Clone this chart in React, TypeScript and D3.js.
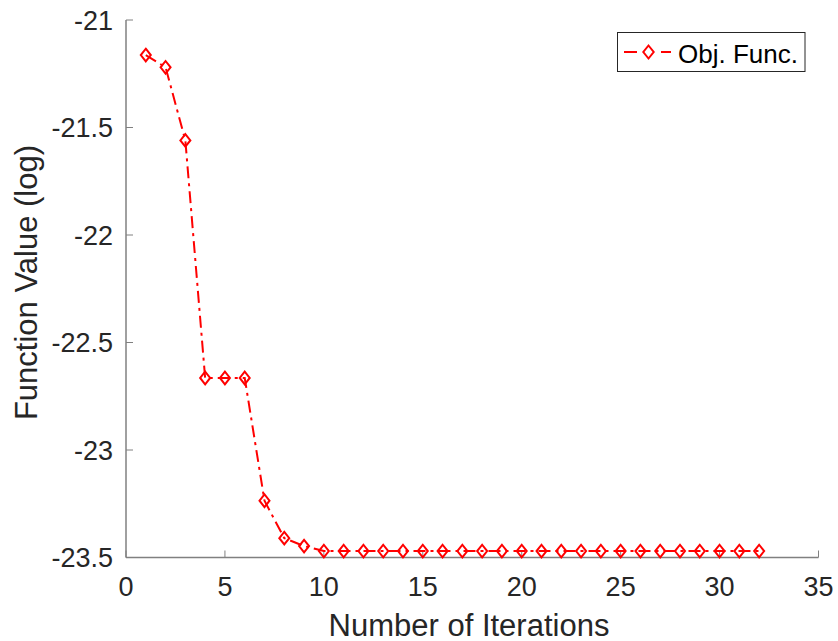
import React from "react";
import * as d3 from "d3";

const iterations = [1,2,3,4,5,6,7,8,9,10,11,12,13,14,15,16,17,18,19,20,21,22,23,24,25,26,27,28,29,30,31,32];
const values = [-21.163,-21.22,-21.56,-22.665,-22.665,-22.665,-23.236,-23.41,-23.447,-23.47,-23.47,-23.47,-23.47,-23.47,-23.47,-23.47,-23.47,-23.47,-23.47,-23.47,-23.47,-23.47,-23.47,-23.47,-23.47,-23.47,-23.47,-23.47,-23.47,-23.47,-23.47,-23.47];
const xTicks = [0,5,10,15,20,25,30,35];
const yTicks = [-21,-21.5,-22,-22.5,-23,-23.5];
const seriesName = "Obj. Func.";
const xTitle = "Number of Iterations";
const yTitle = "Function Value (log)";

const W = 838, H = 641;
const font = "'Liberation Sans', Arial, Helvetica, sans-serif";

function diamond(cx: number, cy: number, hw = 5, hh = 6.3) {
  return `M${cx},${cy - hh}L${cx + hw},${cy}L${cx},${cy + hh}L${cx - hw},${cy}Z`;
}

export default function App() {
  const x = d3.scaleLinear().domain([0, 35]).range([126, 818.5]);
  const y = d3.scaleLinear().domain([-23.5, -21]).range([557.5, 20]);
  const line = d3.line<number>().x((_, i) => x(iterations[i])).y((d) => y(d));
  const axisColor = "#808080";
  const textColor = "#262626";
  const dash = "12,5,3,5";
  return (
    <svg width={W} height={H} style={{ position: "absolute", left: 0, top: 0, background: "#fff" }}>
      <line x1={x(0)} x2={x(35)} y1={y(-23.5)} y2={y(-23.5)} stroke={axisColor} strokeWidth={1.5} />
      <line x1={x(0)} x2={x(0)} y1={y(-23.5)} y2={y(-21)} stroke={axisColor} strokeWidth={1.5} />
      {xTicks.map((t) => (
        <g key={"x" + t}>
          <line x1={x(t)} x2={x(t)} y1={y(-23.5)} y2={y(-23.5) - 7} stroke={axisColor} strokeWidth={1} />
          <text x={x(t)} y={y(-23.5) + 38.5} textAnchor="middle" fontFamily={font} fontSize={27} fill={textColor}>{t}</text>
        </g>
      ))}
      {yTicks.map((t) => (
        <g key={"y" + t}>
          <line x1={x(0)} x2={x(0) + 7} y1={y(t)} y2={y(t)} stroke={axisColor} strokeWidth={1} />
          <text x={x(0) - 13} y={y(t) + 9.5} textAnchor="end" fontFamily={font} fontSize={27} fill={textColor}>{t}</text>
        </g>
      ))}
      <text x={469} y={635.5} textAnchor="middle" fontFamily={font} fontSize={31} fill={textColor}>{xTitle}</text>
      <text transform={`translate(37, 282.5) rotate(-90)`} textAnchor="middle" fontFamily={font} fontSize={31} fill={textColor}>{yTitle}</text>
      <path d={line(values) || ""} fill="none" stroke="#ff0000" strokeWidth={2} strokeDasharray={dash} />
      {values.map((v, i) => (
        <path key={i} d={diamond(x(iterations[i]), y(v))} fill="none" stroke="#ff0000" strokeWidth={2} />
      ))}
      <rect x={617.5} y={32.5} width={187.5} height={39} fill="#fff" stroke="#262626" strokeWidth={1} />
      <line x1={624} x2={671} y1={52} y2={52} stroke="#ff0000" strokeWidth={2} strokeDasharray="13,24,10,4,2,100" />
      <path d={diamond(648.5, 52, 5.2, 6.5)} fill="#fff" stroke="#ff0000" strokeWidth={2} />
      <text x={678} y={62.5} fontFamily={font} fontSize={26} fill="#000">{seriesName}</text>
    </svg>
  );
}
